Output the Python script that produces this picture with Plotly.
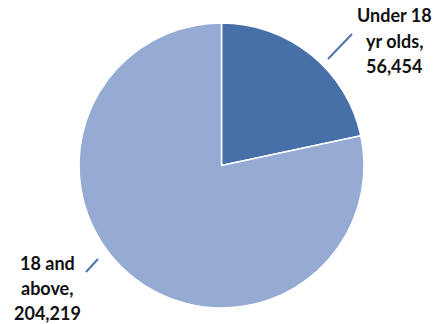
import plotly.graph_objects as go

labels = ["Under 18 yr olds", "18 and above"]
values = [56454, 204219]
label_lines = [["Under 18", "yr olds,"], ["18 and", "above,"]]
colors = ["#4670A7", "#95ABD4"]

W, H = 440, 324
cx, cy, r = 221.5, 165.5, 142.5

fig = go.Figure(go.Pie(
    labels=labels, values=values, sort=False, direction="clockwise",
    rotation=0, textinfo="none", hoverinfo="label+value",
    marker=dict(colors=colors, line=dict(color="white", width=1.5)),
    domain=dict(x=[(cx - r) / W, (cx + r) / W], y=[1 - (cy + r) / H, 1 - (cy - r) / H]),
    showlegend=False,
))

# label placement (pixel anchors) : text center x, first line center y, leader line
placements = [
    dict(tx=394, ty=15.5, line=((328, 59), (352, 34))),
    dict(tx=47, ty=262.5, line=((86, 272), (98, 259))),
]
spacing = 25
for lines, v, p in zip(label_lines, values, placements):
    texts = lines + [f"{v:,}"]
    for i, t in enumerate(texts):
        fig.add_annotation(
            x=p["tx"] / W, y=1 - (p["ty"] + i * spacing) / H, xref="paper", yref="paper",
            text=f"<b>{t}</b>", showarrow=False, xanchor="center", yanchor="middle",
            font=dict(family="Lato", size=18, color="#111111"),
        )
    (x0, y0), (x1, y1) = p["line"]
    fig.add_shape(type="line", xref="paper", yref="paper",
                  x0=x0 / W, y0=1 - y0 / H, x1=x1 / W, y1=1 - y1 / H,
                  line=dict(color="#4F74AA", width=2))

fig.update_layout(width=W, height=H, margin=dict(l=0, r=0, t=0, b=0),
                  paper_bgcolor="white", plot_bgcolor="white")
fig.write_html("out.html", config={"displayModeBar": False},
               post_script="document.body.style.margin='0';document.body.style.overflow='hidden';")
